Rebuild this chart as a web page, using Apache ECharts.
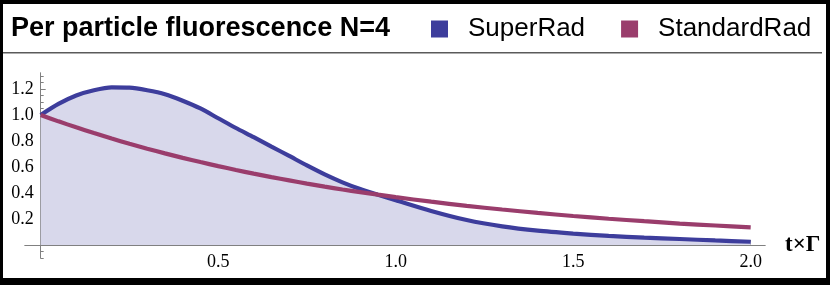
<!DOCTYPE html>
<html>
<head>
<meta charset="utf-8">
<script src="https://cdn.jsdelivr.net/npm/echarts@6/dist/echarts.min.js"></script>
<style>
html,body{margin:0;padding:0;background:#fff;}
#c{width:830px;height:285px;}
</style>
</head>
<body>
<div id="c"></div>
<script>
// ---- data ----
const tValues = [0, 0.05, 0.1, 0.15, 0.2, 0.25, 0.3, 0.35, 0.4, 0.45, 0.5, 0.55, 0.6, 0.65, 0.7, 0.75, 0.8, 0.85, 0.9, 0.95, 1.0, 1.1, 1.2, 1.3, 1.4, 1.5, 1.6, 1.7, 1.8, 1.9, 2.0];
const superRad = [1.00, 1.085, 1.15, 1.19, 1.212, 1.21, 1.19, 1.16, 1.11, 1.05, 0.975, 0.90, 0.83, 0.757, 0.685, 0.612, 0.543, 0.482, 0.43, 0.387, 0.345, 0.262, 0.192, 0.143, 0.11, 0.088, 0.070, 0.057, 0.046, 0.035, 0.025];
const standardRad = [1.00, 0.951, 0.905, 0.861, 0.819, 0.779, 0.741, 0.705, 0.670, 0.638, 0.607, 0.577, 0.549, 0.522, 0.497, 0.472, 0.449, 0.427, 0.407, 0.387, 0.368, 0.333, 0.301, 0.273, 0.247, 0.223, 0.202, 0.183, 0.165, 0.150, 0.135];
const seriesNames = ['SuperRad', 'StandardRad'];
const titleText = 'Per particle fluorescence N=4';
const xAxisName = 't\u00d7\u0393';
const xMajorTicks = [0.5, 1.0, 1.5, 2.0];
const xMinorTicks = [0.1, 0.2, 0.3, 0.4, 0.6, 0.7, 0.8, 0.9, 1.1, 1.2, 1.3, 1.4, 1.6, 1.7, 1.8, 1.9];
const yMajorTicks = [0.2, 0.4, 0.6, 0.8, 1.0, 1.2];
const yMinorTicks = [-0.1, -0.05, 0.05, 0.1, 0.15, 0.25, 0.3, 0.35, 0.45, 0.5, 0.55, 0.65, 0.7, 0.75, 0.85, 0.9, 0.95, 1.05, 1.1, 1.15, 1.25, 1.3];

const BLUE = '#3d3d9c';
const PURPLE = '#9a3d6c';
const FILL = '#d8d8eb';
const AXIS = '#808080';
const serif = 'Liberation Serif';
const sans = 'Liberation Sans';

const chart = echarts.init(document.getElementById('c'), null, {renderer: 'canvas'});

const GRID = {left: 25, top: 73, width: 740, height: 185};
const xMin = -0.0442, xMax = 2.0403, yMin = -0.1, yMax = 1.323;
// place the axes through the origin (0,0) of the data
const yOffset = -(0 - xMin) / (xMax - xMin) * GRID.width;
const xOffset = -(0 - yMin) / (yMax - yMin) * GRID.height;

const baseX = {
  type: 'value', min: xMin, max: xMax, position: 'bottom', offset: xOffset,
  splitLine: {show: false},
  axisLine: {onZero: false, lineStyle: {color: AXIS, width: 1}}
};
const baseY = {
  type: 'value', min: yMin, max: yMax, position: 'left', offset: yOffset,
  splitLine: {show: false},
  axisLine: {onZero: false, lineStyle: {color: AXIS, width: 1}}
};

chart.setOption({
  animation: false,
  backgroundColor: '#fff',
  title: {
    text: titleText, left: 11, top: 15, padding: 0,
    textStyle: {fontFamily: sans, fontWeight: 'bold', fontSize: 27, color: '#000'}
  },
  legend: {
    data: seriesNames, left: 431, top: 16, padding: 0, icon: 'rect',
    itemWidth: 17, itemHeight: 17, itemGap: 36,
    textStyle: {fontFamily: sans, fontSize: 26, color: '#000', padding: [0, 0, 0, 15]}
  },
  grid: Object.assign({containLabel: false, outerBoundsMode: 'none'}, GRID),
  xAxis: [
    Object.assign({}, baseX, {
      name: xAxisName, nameLocation: 'end', nameGap: 20,
      nameTextStyle: {fontFamily: serif, fontWeight: 'bold', fontSize: 23, color: '#000', verticalAlign: 'middle'},
      axisTick: {show: true, inside: true, length: 5, customValues: xMajorTicks, lineStyle: {color: AXIS}},
      axisLabel: {show: true, customValues: xMajorTicks, margin: 8, fontFamily: serif, fontSize: 18, color: '#000',
        formatter: v => v.toFixed(1)}
    }),
    Object.assign({}, baseX, {
      axisTick: {show: true, inside: true, length: 3.5, customValues: xMinorTicks, lineStyle: {color: AXIS}},
      axisLabel: {show: false}
    })
  ],
  yAxis: [
    Object.assign({}, baseY, {
      axisTick: {show: true, inside: true, length: 5, customValues: yMajorTicks, lineStyle: {color: AXIS}},
      axisLabel: {show: true, customValues: yMajorTicks, margin: 7, fontFamily: serif, fontSize: 18, color: '#000',
        formatter: v => v.toFixed(1)}
    }),
    Object.assign({}, baseY, {
      axisTick: {show: true, inside: true, length: 3, customValues: yMinorTicks, lineStyle: {color: AXIS}},
      axisLabel: {show: false}
    })
  ],
  graphic: [
    {type: 'rect', shape: {x: 3, y: 52, width: 819, height: 1.5}, style: {fill: '#5a5a5a'}, silent: true},
    {type: 'rect', shape: {x: 0, y: 0, width: 830, height: 4}, style: {fill: '#000'}, silent: true},
    {type: 'rect', shape: {x: 0, y: 0, width: 3, height: 285}, style: {fill: '#000'}, silent: true},
    {type: 'rect', shape: {x: 826, y: 0, width: 4, height: 285}, style: {fill: '#000'}, silent: true},
    {type: 'rect', shape: {x: 0, y: 278, width: 830, height: 7}, style: {fill: '#000'}, silent: true}
  ],
  series: [
    {
      name: seriesNames[0], type: 'line', xAxisIndex: 0, yAxisIndex: 0,
      data: tValues.map((t, i) => [t, superRad[i]]),
      showSymbol: false, smooth: 0.25, color: BLUE,
      lineStyle: {color: BLUE, width: 4.2},
      areaStyle: {color: FILL, opacity: 1, origin: 0},
      z: 2
    },
    {
      name: seriesNames[1], type: 'line', xAxisIndex: 0, yAxisIndex: 0,
      data: tValues.map((t, i) => [t, standardRad[i]]),
      showSymbol: false, smooth: 0.25, color: PURPLE,
      lineStyle: {color: PURPLE, width: 4.2},
      z: 3
    }
  ]
});
</script>
</body>
</html>
